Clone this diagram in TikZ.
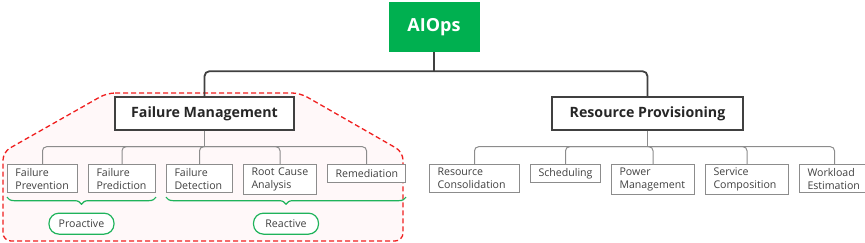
\documentclass[tikz,border=0pt]{standalone}
\usepackage{fontspec}
\setmainfont{Open Sans}
\usetikzlibrary{positioning, calc, decorations.pathreplacing}
\definecolor{opsgreen}{HTML}{00B050}
\definecolor{bracegreen}{HTML}{1FB35B}
\definecolor{edgegray}{HTML}{404040}
\definecolor{leafgray}{HTML}{8C8C8C}
\definecolor{zonered}{HTML}{F01E1E}
\definecolor{zonefill}{HTML}{FFF8F9}

\begin{document}
\begin{tikzpicture}[
        x=1pt, y=-1pt,
        node distance=10pt,
        root/.style={rectangle, fill=opsgreen, text=white, font=\fontsize{18}{20}\selectfont\bfseries, minimum width=91pt, minimum height=50pt},
        cat/.style={rectangle, draw=edgegray, line width=1.5pt, fill=white, text=black!85, font=\fontsize{14.2}{16}\selectfont\bfseries, minimum height=33pt},
        leaf/.style={rectangle, draw=leafgray, line width=1pt, fill=white, text=edgegray, font=\fontsize{10.6}{13}\selectfont, align=left, inner xsep=8pt, inner ysep=3.5pt, minimum height=18pt, text width=#1},
        group/.style={rectangle, draw=bracegreen, line width=1.2pt, rounded corners=10pt, fill=white, text=edgegray, font=\fontsize{10.6}{12}\selectfont, minimum width=65pt, minimum height=21pt},
        trunk/.style={draw=edgegray, line width=1.8pt, rounded corners=5pt},
        twig/.style={draw=leafgray, line width=1pt, rounded corners=4pt},
        curly/.style={draw=bracegreen, line width=1.2pt, decorate, decoration={brace, mirror, amplitude=7pt}},
        zone/.style={draw=zonered, dash pattern=on 5pt off 3pt, line width=1.3pt, fill=zonefill, rounded corners=8pt}
        ]
        \useasboundingbox (0,0) rectangle (865,243);

        \draw[zone] (107,93) -- (300,93) -- (403,152) -- (403,241) -- (3,241) -- (3,152) -- cycle;

        \node[root] (aiops) at (434,27) {AIOps};
        \node[cat, minimum width=179pt] (fm) at (204.5,113.5) {Failure Management};
        \node[cat, minimum width=191pt] (rp) at (647.5,113.5) {Resource Provisioning};

        \node[leaf=54pt, anchor=north west] (fprev) at (7,164) {Failure\\Prevention};
        \node[leaf=51pt, right=of fprev.north east, anchor=north west] (fpred) {Failure\\Prediction};
        \node[leaf=50pt, right=of fpred.north east, anchor=north west] (fdet) {Failure\\Detection};
        \node[leaf=57pt, right=of fdet.north east, anchor=north west] (rca) {Root Cause\\Analysis};
        \node[leaf=62pt, right=of rca.north east, anchor=north west] (rem) {Remediation};

        \node[leaf=74pt, anchor=north west] (rcons) at (429,164) {Resource\\Consolidation};
        \node[leaf=54pt, right=of rcons.north east, anchor=north west] (sched) {Scheduling};
        \node[leaf=67pt, right=of sched.north east, anchor=north west] (power) {Power\\Management};
        \node[leaf=67pt, right=of power.north east, anchor=north west] (serv) {Service\\Composition};
        \node[leaf=54pt, right=of serv.north east, anchor=north west] (work) {Workload\\Estimation};

        \coordinate (topbus) at ($(aiops.south)+(0,19)$);
        \coordinate (fmbus) at ($(fm.south)+(0,16)$);
        \coordinate (rpbus) at ($(rp.south)+(0,16)$);

        \draw[trunk] (aiops.south) -- (topbus);
        \draw[trunk] (topbus) -| (fm.north);
        \draw[trunk] (topbus) -| (rp.north);

        \draw[twig] (fm.south) -- (fmbus);
        \foreach \leafname in {fprev, fpred, fdet, rca, rem}
            \draw[twig] (fmbus) -| (\leafname.north);
        \draw[twig] (rp.south) -- (rpbus);
        \foreach \leafname in {rcons, sched, power, serv, work}
            \draw[twig] (rpbus) -| (\leafname.north);

        \draw[curly] ($(fprev.south west)+(0,4)$) -- ($(fpred.south east)+(0,4)$);
        \draw[curly] ($(fdet.south west)+(0,4)$) -- ($(fdet.south west -| rem.east)+(0,4)$);

        \node[group] (proactive) at ($(fprev.south west)!.5!(fpred.south east)+(0,30.5)$) {Proactive};
        \node[group] (reactive) at ($(fdet.south west)!.5!(fdet.south west -| rem.east)+(0,30.5)$) {Reactive};
    \end{tikzpicture}
\end{document}
